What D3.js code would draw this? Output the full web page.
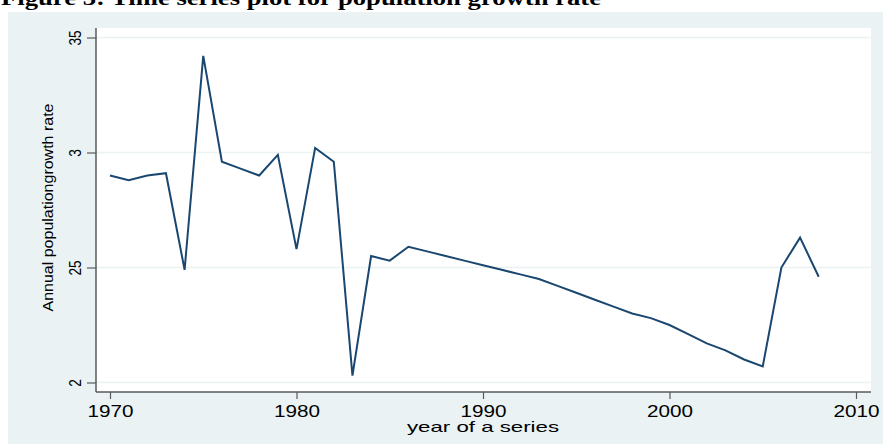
<!DOCTYPE html>
<html>
<head>
<meta charset="utf-8">
<script src="https://cdn.jsdelivr.net/npm/d3@7"></script>
<style>
  html, body { margin: 0; padding: 0; background: #ffffff; }
  svg { display: block; }
</style>
</head>
<body>
<script>
// Annual population growth rate by year
const years = [1970, 1971, 1972, 1973, 1974, 1975, 1976, 1977, 1978, 1979,
               1980, 1981, 1982, 1983, 1984, 1985, 1986, 1987, 1988, 1989,
               1990, 1991, 1992, 1993, 1994, 1995, 1996, 1997, 1998, 1999,
               2000, 2001, 2002, 2003, 2004, 2005, 2006, 2007, 2008];
const growthRate = [2.90, 2.88, 2.90, 2.91, 2.49, 3.42, 2.96, 2.93, 2.90, 2.99,
                    2.58, 3.02, 2.96, 2.03, 2.55, 2.53, 2.59, 2.57, 2.55, 2.53,
                    2.51, 2.49, 2.47, 2.45, 2.42, 2.39, 2.36, 2.33, 2.30, 2.28,
                    2.25, 2.21, 2.17, 2.14, 2.10, 2.07, 2.50, 2.63, 2.46];

// Axis ticks and their printed labels
const xTicks = [1970, 1980, 1990, 2000, 2010];
const yTicks = [2, 2.5, 3, 3.5];
const yTickLabels = ["2", "25", "3", "35"];

const titleText = "Figure 3: Time series plot for population growth rate";
const xTitle = "year of a series";
const yTitle = "Annual populationgrowth rate";

const W = 883, H = 444;
const panelBg = "#eaf2f3";
const lineColor = "#1a476f";
const axisColor = "#5a5a5a";

const svg = d3.select("body").append("svg")
  .attr("width", W).attr("height", H);

// outer graph region
svg.append("rect")
  .attr("x", 8).attr("y", 12)
  .attr("width", W - 8).attr("height", H - 12)
  .attr("fill", panelBg);

// figure caption (partly above the frame)
svg.append("text")
  .attr("x", 1).attr("y", 5)
  .attr("font-family", "'Liberation Serif', 'Times New Roman', serif")
  .attr("font-weight", "bold")
  .attr("font-size", 20)
  .attr("textLength", 600)
  .attr("lengthAdjust", "spacingAndGlyphs")
  .attr("fill", "#000")
  .text(titleText);

const plot = { left: 96, right: 871, top: 28, bottom: 392 };

const x = d3.scaleLinear().domain([1970, 2010]).range([110, 856]);
const y = d3.scaleLinear().domain([2, 3.5]).range([382.5, 37.5]);

// plot region
svg.append("rect")
  .attr("x", plot.left).attr("y", plot.top)
  .attr("width", plot.right - plot.left).attr("height", plot.bottom - plot.top)
  .attr("fill", "#ffffff");

// horizontal grid lines
svg.append("g")
  .selectAll("line")
  .data(yTicks)
  .join("line")
  .attr("x1", plot.left).attr("x2", plot.right)
  .attr("y1", d => y(d)).attr("y2", d => y(d))
  .attr("stroke", panelBg)
  .attr("stroke-width", 1.5);

// series line
const line = d3.line()
  .x((d, i) => x(years[i]))
  .y(d => y(d));

svg.append("path")
  .datum(growthRate)
  .attr("d", line)
  .attr("fill", "none")
  .attr("stroke", lineColor)
  .attr("stroke-width", 2)
  .attr("stroke-linejoin", "miter");

const sansFont = "'Liberation Sans', Arial, Helvetica, sans-serif";

// x axis
const xAxis = svg.append("g")
  .attr("transform", `translate(0,${plot.bottom})`)
  .call(d3.axisBottom(x).tickValues(xTicks).tickFormat(d3.format("d"))
        .tickSize(7).tickSizeOuter(0));
xAxis.select(".domain")
  .attr("d", `M${plot.left},0H${plot.right}`)
  .attr("stroke", axisColor).attr("stroke-width", 1.5);
xAxis.selectAll(".tick line").attr("stroke", axisColor).attr("stroke-width", 1.2);
xAxis.selectAll(".tick text")
  .attr("y", 25.3).attr("dy", 0)
  .attr("font-family", sansFont)
  .attr("font-size", 16)
  .attr("fill", "#000")
  .attr("textLength", 46)
  .attr("lengthAdjust", "spacingAndGlyphs");

// y axis
const yAxis = svg.append("g")
  .attr("transform", `translate(${plot.left},0)`)
  .call(d3.axisLeft(y).tickValues(yTicks)
        .tickFormat((d, i) => yTickLabels[i])
        .tickSize(9).tickSizeOuter(0));
yAxis.select(".domain")
  .attr("d", `M0,${plot.top}V${plot.bottom}`)
  .attr("stroke", axisColor).attr("stroke-width", 1.5);
yAxis.selectAll(".tick line").attr("stroke", axisColor).attr("stroke-width", 1.2);
yAxis.selectAll(".tick text")
  .attr("x", 0).attr("y", 0).attr("dy", 0)
  .attr("text-anchor", "middle")
  .attr("transform", "translate(-15.3,0) rotate(-90)")
  .attr("font-family", sansFont)
  .attr("font-size", 16.5)
  .attr("fill", "#000")
  .attr("textLength", (d, i) => yTickLabels[i].length * 7.6)
  .attr("lengthAdjust", "spacingAndGlyphs");

// axis titles
svg.append("text")
  .attr("x", 483).attr("y", 431.7)
  .attr("text-anchor", "middle")
  .attr("font-family", sansFont)
  .attr("font-size", 15)
  .attr("textLength", 152)
  .attr("lengthAdjust", "spacingAndGlyphs")
  .attr("fill", "#000")
  .text(xTitle);

svg.append("text")
  .attr("transform", "translate(52.7,207.5) rotate(-90)")
  .attr("text-anchor", "middle")
  .attr("font-family", sansFont)
  .attr("font-size", 14)
  .attr("textLength", 208)
  .attr("lengthAdjust", "spacingAndGlyphs")
  .attr("fill", "#000")
  .text(yTitle);
</script>
</body>
</html>
